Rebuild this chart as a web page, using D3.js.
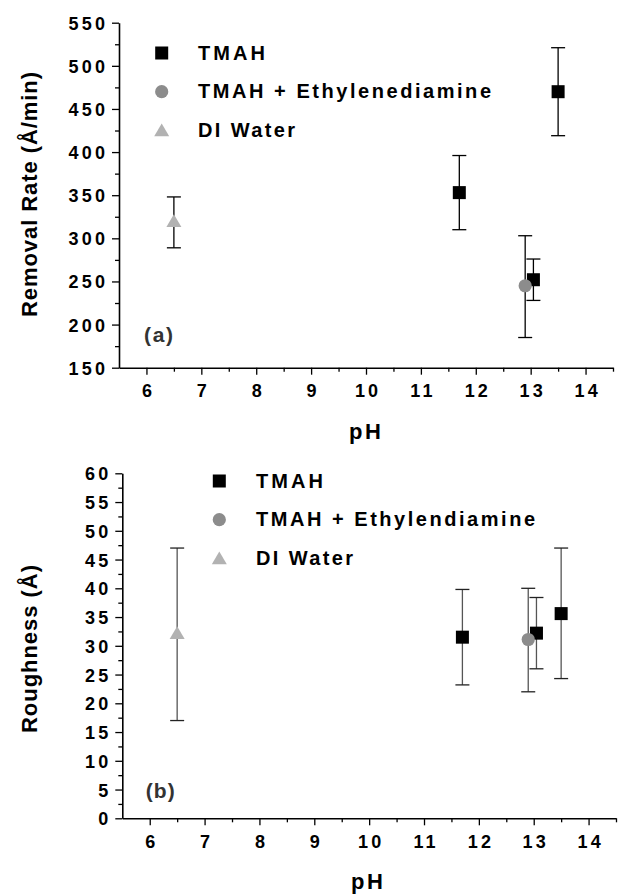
<!DOCTYPE html>
<html>
<head>
<meta charset="utf-8">
<script src="https://cdn.jsdelivr.net/npm/d3@7"></script>
<style>
  html, body { margin: 0; padding: 0; background: #fff; }
  svg { display: block; font-family: "Liberation Sans", Arial, sans-serif; font-weight: bold; }
</style>
</head>
<body>
<svg id="chart" width="620" height="894"></svg>
<script>
// ---------- Data ----------
// Panel (a): removal rate (Å/min) vs pH
const phTMAH = [11.7, 13.05, 13.5];
const rateTMAH = [353, 252, 470];
const rateTMAHHi = [396, 276, 521];
const rateTMAHLo = [310, 228, 419];

const phEDA = [12.9];
const rateEDA = [245];
const rateEDAHi = [303];
const rateEDALo = [185];

const phDI = [6.5];
const rateDI = [320];
const rateDIHi = [348];
const rateDILo = [289];

// Panel (b): roughness (Å) vs pH
const roughTMAH = [31.5, 32.2, 35.6];
const roughTMAHHi = [39.8, 38.4, 47];
const roughTMAHLo = [23.2, 26.0, 24.3];

const roughEDA = [31.1];
const roughEDAHi = [40];
const roughEDALo = [22];

const roughDI = [32.2];
const roughDIHi = [47];
const roughDILo = [17];

// Ticks / labels
const xTicks = [6, 7, 8, 9, 10, 11, 12, 13, 14];
const xMinor = [6.5, 7.5, 8.5, 9.5, 10.5, 11.5, 12.5, 13.5, 14.5];
const rateTicks = [150, 200, 250, 300, 350, 400, 450, 500, 550];
const rateMinor = [175, 225, 275, 325, 375, 425, 475, 525];
const roughTicks = [0, 5, 10, 15, 20, 25, 30, 35, 40, 45, 50, 55, 60];
const roughMinor = [2.5, 7.5, 12.5, 17.5, 22.5, 27.5, 32.5, 37.5, 42.5, 47.5, 52.5, 57.5];

const legendA = ["TMAH", "TMAH + Ethylenediamine", "DI Water"];
const legendB = ["TMAH", "TMAH + Ethylendiamine", "DI Water"];

// ---------- Helpers ----------
const svg = d3.select("#chart");
const COL_SQ = "#000000", COL_CI = "#8c8c8c", COL_TR = "#b2b2b2";

function spaceOut(textSel, ls) {
  textSel.each(function () {
    const n = this.textContent.length;
    if (n > 1) {
      const w = this.getComputedTextLength();
      d3.select(this).attr("textLength", w + (n - 1) * ls).attr("lengthAdjust", "spacing");
    }
  });
}

function fixLength(textSel, L) {
  textSel.attr("textLength", L).attr("lengthAdjust", "spacing");
}

function triPath(cx, cy) {
  return `M${cx - 7.5},${cy + 5.8}L${cx + 7.5},${cy + 5.8}L${cx},${cy - 6.8}Z`;
}

function drawMarker(g, kind, cx, cy) {
  if (kind === "sq") {
    g.append("rect").attr("x", cx - 6.5).attr("y", cy - 6.5).attr("width", 13).attr("height", 13).attr("fill", COL_SQ);
  } else if (kind === "ci") {
    g.append("circle").attr("cx", cx).attr("cy", cy).attr("r", 6.6).attr("fill", COL_CI);
  } else {
    g.append("path").attr("d", triPath(cx, cy)).attr("fill", COL_TR);
  }
}

function panel(cfg) {
  const g = svg.append("g");
  const x = d3.scaleLinear().domain([5.5, 14.5]).range([cfg.x0, cfg.x1]);
  const y = d3.scaleLinear().domain(cfg.yDomain).range([cfg.yBottom, cfg.yTop]);

  // minor ticks
  const yMinorAxis = g.append("g").attr("transform", `translate(${cfg.x0},0)`)
    .call(d3.axisLeft(y).tickValues(cfg.yMinor).tickSize(4).tickFormat(""));
  const xMinorAxis = g.append("g").attr("transform", `translate(0,${cfg.yBottom})`)
    .call(d3.axisBottom(x).tickValues(xMinor).tickSize(4).tickFormat(""));
  [yMinorAxis, xMinorAxis].forEach(a => { a.select(".domain").remove(); a.selectAll("line").attr("stroke", "#000").attr("stroke-width", 1.3); });

  // major axes
  const yAxis = g.append("g").attr("transform", `translate(${cfg.x0},0)`)
    .call(d3.axisLeft(y).tickValues(cfg.yTicks).tickSize(7).tickPadding(7).tickSizeOuter(0).tickFormat(d3.format("d")));
  const xAxis = g.append("g").attr("transform", `translate(0,${cfg.yBottom})`)
    .call(d3.axisBottom(x).tickValues(xTicks).tickSize(7).tickSizeOuter(0).tickFormat(d3.format("d")));
  [yAxis, xAxis].forEach(a => {
    a.select(".domain").attr("stroke", "#000").attr("stroke-width", 1.6);
    a.selectAll("line").attr("stroke", "#000").attr("stroke-width", 1.3);
    a.selectAll("text").attr("fill", "#000").style("font-size", "18px").style("font-family", "'Liberation Sans', Arial, sans-serif").style("font-weight", "bold");
  });
  yAxis.selectAll("text").attr("dy", "0.36em");
  xAxis.selectAll("text").attr("y", cfg.xLabelOffset).attr("dy", 0);
  spaceOut(yAxis.selectAll("text"), 3.2);
  spaceOut(xAxis.selectAll("text"), 3.2);

  // titles
  const yt = g.append("text").attr("transform", `translate(37,${cfg.yTitleCenter}) rotate(-90)`)
    .attr("text-anchor", "middle").style("font-size", "22px").attr("fill", "#000").text(cfg.yTitle);
  fixLength(yt, cfg.yTitleLen);
  const xt = g.append("text").attr("x", cfg.pHx).attr("y", cfg.pHy).attr("text-anchor", "middle")
    .style("font-size", "22px").attr("fill", "#000").text("pH");
  fixLength(xt, 32);

  // panel letter
  const pl = g.append("text").attr("x", cfg.letterX).attr("y", cfg.letterY)
    .style("font-size", "21px").attr("fill", "#333").text(cfg.letter);
  fixLength(pl, 29);

  // legend
  const kinds = ["sq", "ci", "tr"];
  cfg.legend.forEach((lab, i) => {
    const cy = cfg.legY0 + i * cfg.legDy;
    drawMarker(g, kinds[i], cfg.legMarkX, cy);
    const t = g.append("text").attr("x", cfg.legTextX).attr("y", cy + 6.5)
      .style("font-size", "20px").attr("fill", "#000").text(lab);
    fixLength(t, cfg.legLens[i]);
  });

  // error bars + markers
  function series(ph, v, hi, lo, kind, barColor, capColor) {
    ph.forEach((p, i) => {
      const cx = x(p);
      g.append("line").attr("x1", cx).attr("x2", cx).attr("y1", y(hi[i])).attr("y2", y(lo[i]))
        .attr("stroke", barColor).attr("stroke-width", 1.3);
      [hi[i], lo[i]].forEach(val => {
        g.append("line").attr("x1", cx - 7).attr("x2", cx + 7).attr("y1", y(val)).attr("y2", y(val))
          .attr("stroke", capColor).attr("stroke-width", 1.3);
      });
    });
    ph.forEach((p, i) => drawMarker(g, kind, x(p), y(v[i])));
  }
  cfg.series.forEach(s => series(s[0], s[1], s[2], s[3], s[4], s[5], s[6]));
}

panel({
  x0: 119, x1: 613, yTop: 22.7, yBottom: 367.7, yDomain: [150, 550],
  yTicks: rateTicks, yMinor: rateMinor, xLabelOffset: 29.5,
  yTitle: "Removal Rate (Å/min)", yTitleCenter: 194.5, yTitleLen: 245,
  pHx: 365, pHy: 439,
  letter: "(a)", letterX: 144, letterY: 341.5,
  legend: legendA, legY0: 53, legDy: 38.7, legMarkX: 161.7, legTextX: 198, legLens: [67, 293, 97],
  series: [
    [phTMAH, rateTMAH, rateTMAHHi, rateTMAHLo, "sq", "#000", "#000"],
    [phEDA, rateEDA, rateEDAHi, rateEDALo, "ci", "#000", "#000"],
    [phDI, rateDI, rateDIHi, rateDILo, "tr", "#000", "#000"]
  ]
});

panel({
  x0: 122.3, x1: 616, yTop: 473.3, yBottom: 818.3, yDomain: [0, 60],
  yTicks: roughTicks, yMinor: roughMinor, xLabelOffset: 30,
  yTitle: "Roughness (Å)", yTitleCenter: 649, yTitleLen: 168,
  pHx: 367, pHy: 889,
  letter: "(b)", letterX: 145.7, letterY: 797.5,
  legend: legendB, legY0: 481, legDy: 38.7, legMarkX: 219.3, legTextX: 256, legLens: [67, 279, 97],
  series: [
    [phTMAH, roughTMAH, roughTMAHHi, roughTMAHLo, "sq", "#555", "#222"],
    [phEDA, roughEDA, roughEDAHi, roughEDALo, "ci", "#555", "#222"],
    [phDI, roughDI, roughDIHi, roughDILo, "tr", "#555", "#222"]
  ]
});
</script>
</body>
</html>
